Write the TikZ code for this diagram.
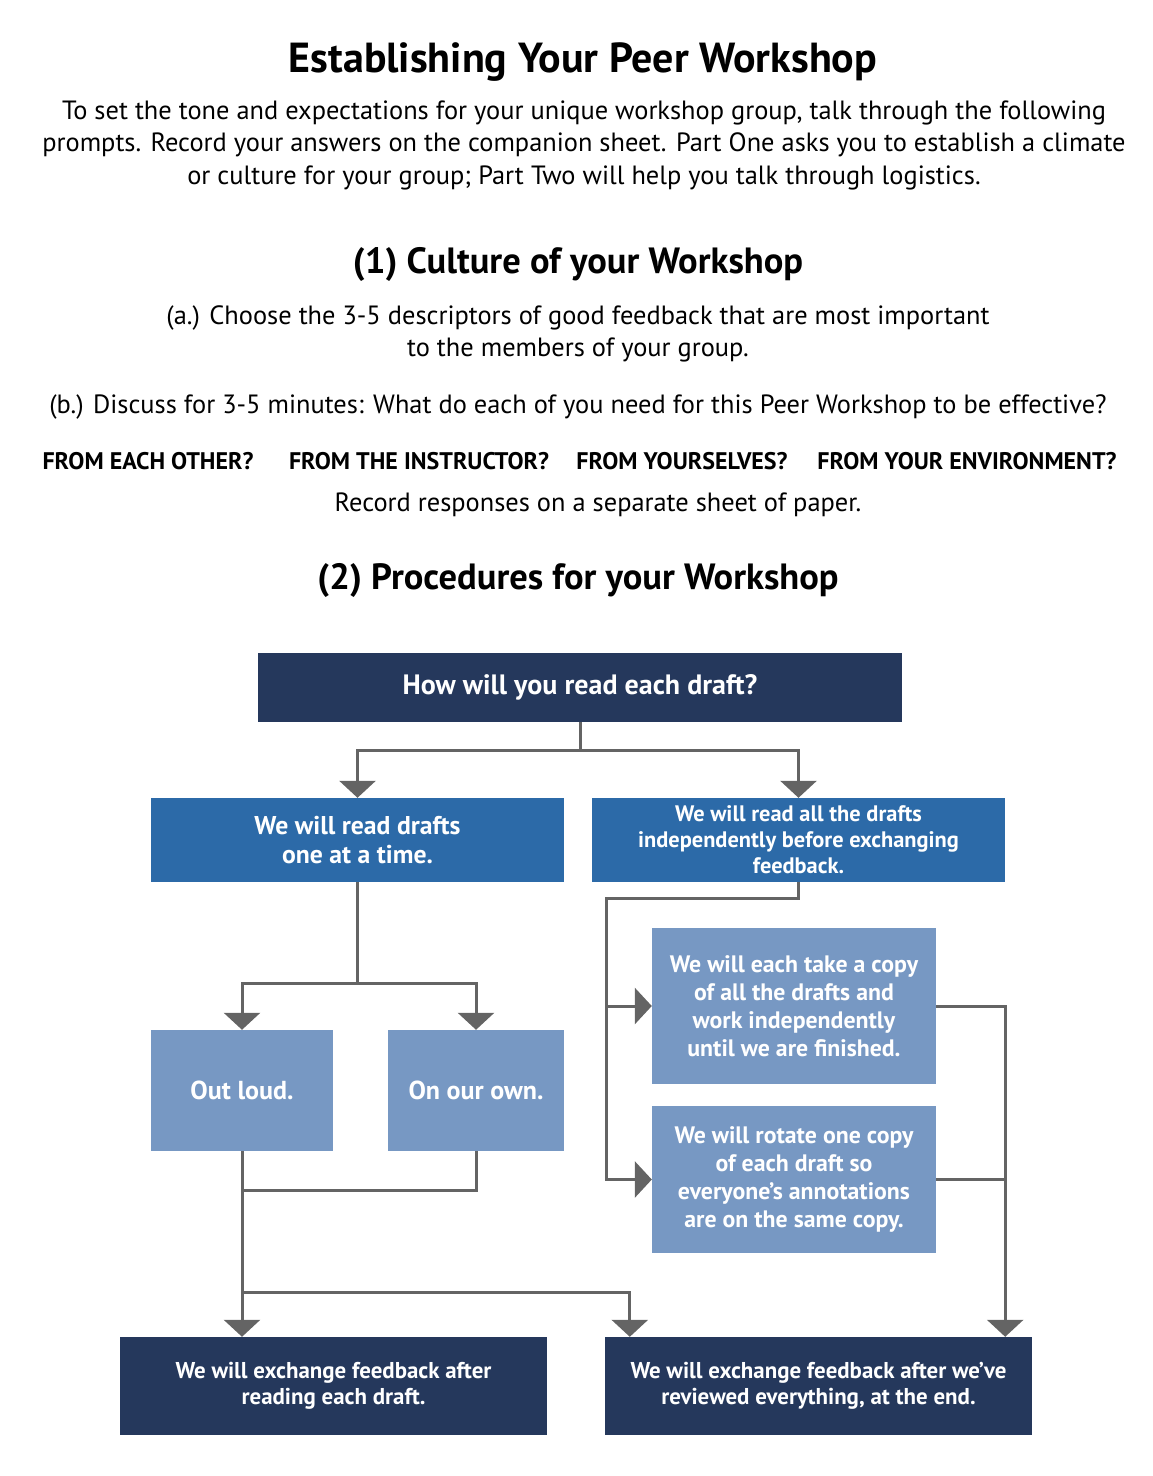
\documentclass[tikz,border=0pt]{standalone}
\usepackage{fontspec}
\setmainfont{PT Sans}
\usetikzlibrary{arrows.meta}
\definecolor{navy}{RGB}{37,56,92}
\definecolor{midblue}{RGB}{44,106,168}
\definecolor{lightblue}{RGB}{119,152,195}
\definecolor{linegray}{RGB}{100,100,100}
\begin{document}
\begin{tikzpicture}[x=1pt,y=-1pt,
    box/.style={rectangle,inner sep=0pt,text=white,align=center,font=\bfseries},
    navybox/.style={box,fill=navy},
    midbox/.style={box,fill=midblue},
    lightbox/.style={box,fill=lightblue},
    line/.style={draw=linegray,line width=3pt},
    conn/.style={line,-{Triangle[width=36pt,length=17pt]}},
    head/.style={font=\fontsize{36.5}{42}\selectfont\bfseries},
    body/.style={align=center,font=\fontsize{26.4}{32.5}\selectfont},
    askfrom/.style={font=\fontsize{24}{28}\selectfont\bfseries}]
    \useasboundingbox (0,0) rectangle (1153,1476);
    % heading and prompts
    \node[font=\fontsize{42}{48}\selectfont\bfseries] (title) at (583,62) {Establishing Your Peer Workshop};
    \node[body] (intro) at (584,145) {To set the tone and expectations for your unique workshop group, talk through the following\\
        prompts. Record your answers on the companion sheet. Part One asks you to establish a climate\\
        or culture for your group; Part Two will help you talk through logistics.};
    \node[head] (cult) at (578,264) {(1) Culture of your Workshop};
    \node[body] (choose) at (578,334) {(a.) Choose the 3-5 descriptors of good feedback that are most important\\
        to the members of your group.};
    \node[body] (discuss) at (578,407) {(b.) Discuss for 3-5 minutes: What do each of you need for this Peer Workshop to be effective?};
    \node[askfrom] (fromother) at (148,461) {FROM EACH OTHER?};
    \node[askfrom] (frominstr) at (419,461) {FROM THE INSTRUCTOR?};
    \node[askfrom] (fromself) at (682,461) {FROM YOURSELVES?};
    \node[askfrom] (fromenv) at (967,461) {FROM YOUR ENVIRONMENT?};
    \node[body] (record) at (598,505) {Record responses on a separate sheet of paper.};
    \node[head] (proc) at (578,580) {(2) Procedures for your Workshop};
    % flow chart boxes
    \node[navybox,minimum width=644pt,minimum height=69pt,font=\fontsize{28}{32}\selectfont\bfseries] (read) at (580,687.5) {How will you read each draft?};
    \node[midbox,minimum width=413pt,minimum height=84pt,font=\fontsize{25.7}{29}\selectfont\bfseries] (oneat) at (357.5,840) {We will read drafts\\ one at a time.};
    \node[midbox,minimum width=413pt,minimum height=84pt,font=\fontsize{22.4}{26}\selectfont\bfseries] (allind) at (798.5,840) {We will read all the drafts\\ independently before exchanging\\ feedback.};
    \node[lightbox,minimum width=182pt,minimum height=121pt,font=\fontsize{26}{29}\selectfont\bfseries] (loud) at (242,1090.5) {Out loud.};
    \node[lightbox,minimum width=176pt,minimum height=121pt,font=\fontsize{26}{29}\selectfont\bfseries] (own) at (476,1090.5) {On our own.};
    \node[lightbox,minimum width=284pt,minimum height=156pt,font=\fontsize{23.8}{28}\selectfont\bfseries] (copyeach) at (794,1006) {We will each take a copy\\ of all the drafts and\\ work independently\\ until we are finished.};
    \node[lightbox,minimum width=284pt,minimum height=147pt,font=\fontsize{23.8}{28}\selectfont\bfseries] (rotate) at (794,1179.5) {We will rotate one copy\\ of each draft so\\ everyone’s annotations\\ are on the same copy.};
    \node[navybox,minimum width=427pt,minimum height=98pt,font=\fontsize{22.9}{26.5}\selectfont\bfseries] (aftereach) at (333.5,1386) {We will exchange feedback after\\ reading each draft.};
    \node[navybox,minimum width=427pt,minimum height=98pt,font=\fontsize{22.9}{26.5}\selectfont\bfseries] (atend) at (818.5,1386) {We will exchange feedback after we’ve\\ reviewed everything, at the end.};
    % connectors
    \draw[conn] (read.south) -- ++(0,28) -| (oneat.north);
    \draw[conn] (read.south) -- ++(0,28) -| (allind.north);
    \draw[conn] (oneat.south) -- ++(0,101) -| (loud.north);
    \draw[conn] (oneat.south) -- ++(0,101) -| (own.north);
    \draw[line] (own.south) -- ++(0,39) -| (loud.south);
    \draw[conn] (loud.south) -- (loud.south |- aftereach.north);
    \draw[conn] (loud.south) -- ++(0,141) -| ([xshift=25pt]atend.north west);
    \draw[conn] (allind.south) -- ++(0,16) -| ([xshift=-45pt]copyeach.west) -- (copyeach.west);
    \draw[conn] (allind.south) -- ++(0,16) -| ([xshift=-45pt]rotate.west) -- (rotate.west);
    \draw[conn] (copyeach.east) -| ([xshift=-27pt]atend.north east);
    \draw[line] (rotate.east) -- ++(69,0);
\end{tikzpicture}
\end{document}
